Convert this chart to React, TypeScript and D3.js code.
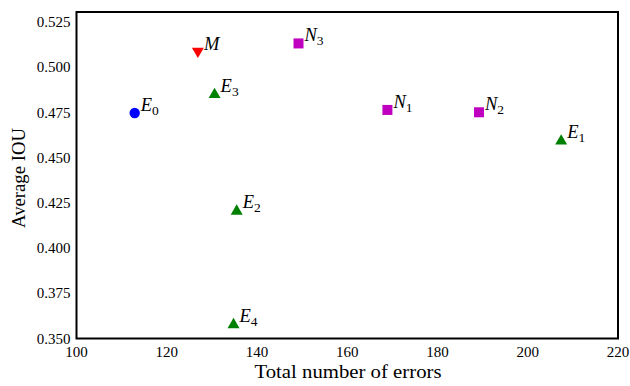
import React from 'react'
import * as d3 from 'd3'

const width = 630
const height = 386

// points
const names = ['E', 'M', 'E', 'N', 'N', 'N', 'E', 'E', 'E']
const subs = ['0', '', '3', '3', '1', '2', '1', '2', '4']
const errors = [112.9, 126.9, 130.6, 149.2, 168.9, 189.2, 207.4, 135.5, 134.8]
const ious = [0.4748, 0.5085, 0.4855, 0.5133, 0.4765, 0.4752, 0.4598, 0.421, 0.3582]
const kinds = ['circle', 'down', 'up', 'square', 'square', 'square', 'up', 'up', 'up']

const xTicks = [100, 120, 140, 160, 180, 200, 220]
const yTicks = [0.35, 0.375, 0.4, 0.425, 0.45, 0.475, 0.5, 0.525]

const colors: Record<string, string> = {
    circle: '#0000ff',
    down: '#ff0000',
    up: '#008000',
    square: '#bf00bf',
}

const margin = { left: 76.5, right: 12, top: 12, bottom: 47.5 }
const font = '"Liberation Serif", "DejaVu Serif", serif'

const App = () => {
    const x = d3
        .scaleLinear()
        .domain([100, 220])
        .range([margin.left, width - margin.right])
    const y = d3
        .scaleLinear()
        .domain([0.35, 0.5307])
        .range([height - margin.bottom, margin.top])

    const marker = (kind: string, cx: number, cy: number, key: number) => {
        const fill = colors[kind]
        if (kind === 'circle') return <circle key={key} cx={cx} cy={cy} r={5.2} fill={fill} />
        if (kind === 'square')
            return <rect key={key} x={cx - 5} y={cy - 5} width={10} height={10} fill={fill} />
        const sym = d3.symbol().type(d3.symbolTriangle).size(62)()
        return (
            <path
                key={key}
                d={sym || ''}
                fill={fill}
                transform={`translate(${cx},${cy + (kind === 'down' ? -1 : 1)}) rotate(${kind === 'down' ? 180 : 0})`}
            />
        )
    }

    return (
        <svg width={width} height={height} style={{ position: 'absolute', left: 0, top: 0 }} fontFamily={font}>
            <rect width={width} height={height} fill="#fff" />
            {errors.map((e, i) => {
                const cx = x(e)
                const cy = y(ious[i])
                return (
                    <g key={i}>
                        {marker(kinds[i], cx, cy, i)}
                        <text x={cx + 6} y={cy - 2} fontSize={18.5} fontStyle="italic" fill="#000">
                            {names[i]}
                            {subs[i] && (
                                <tspan fontStyle="normal" fontSize={13.5} dy={4}>
                                    {subs[i]}
                                </tspan>
                            )}
                        </text>
                    </g>
                )
            })}
            <rect
                x={margin.left}
                y={margin.top}
                width={width - margin.left - margin.right}
                height={height - margin.top - margin.bottom}
                fill="none"
                stroke="#000"
                strokeWidth={2}
            />
            {xTicks.map((t) => (
                <text key={t} x={x(t)} y={height - margin.bottom + 18} textAnchor="middle" fontSize={15}>
                    {t}
                </text>
            ))}
            {yTicks.map((t) => (
                <text key={t} x={margin.left - 6} y={y(t) + 5} textAnchor="end" fontSize={15}>
                    {t.toFixed(3)}
                </text>
            ))}
            <text x={348} y={378} textAnchor="middle" fontSize={19} textLength={187} lengthAdjust="spacingAndGlyphs">
                Total number of errors
            </text>
            <text
                transform={`translate(25,178) rotate(-90)`}
                textAnchor="middle"
                fontSize={19}
                textLength={100}
                lengthAdjust="spacingAndGlyphs"
            >
                Average IOU
            </text>
        </svg>
    )
}

export default App
